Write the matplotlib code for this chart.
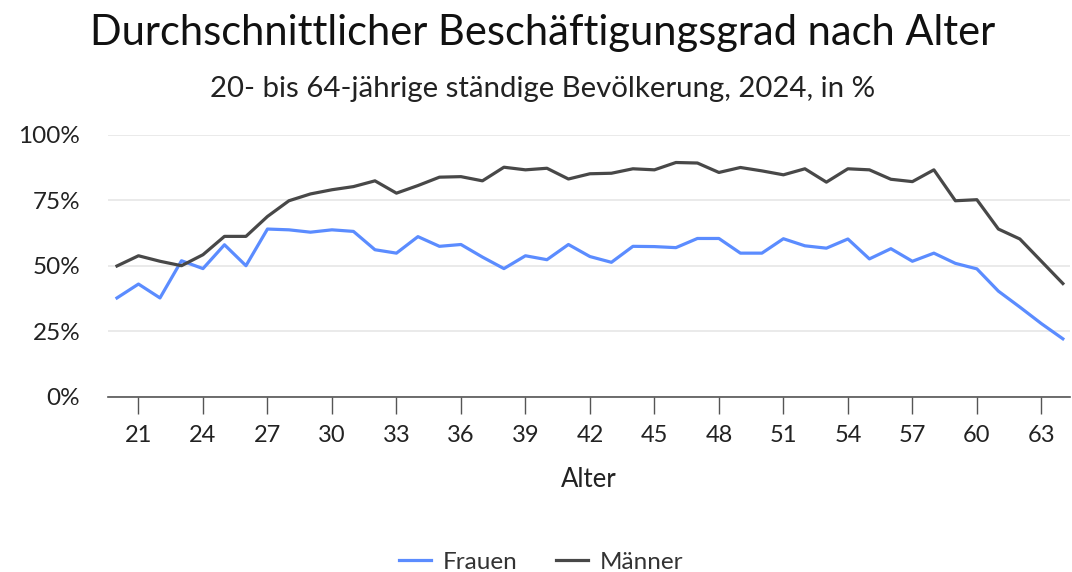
import matplotlib
matplotlib.use("Agg")
import matplotlib.pyplot as plt
from matplotlib.ticker import FuncFormatter

plt.rcParams['font.family'] = ['Lato', 'DejaVu Sans']

alter = list(range(20, 65))
frauen = [37.8, 43.1, 37.8, 52.0, 49.0, 58.1, 50.1, 64.1, 63.8, 62.9,
          63.8, 63.2, 56.2, 54.9, 61.2, 57.5, 58.2, 53.4, 49.0, 53.9,
          52.4, 58.2, 53.6, 51.4, 57.5, 57.4, 57.0, 60.5, 60.5, 54.9,
          54.9, 60.4, 57.7, 56.8, 60.3, 52.7, 56.6, 51.8, 54.9, 51.0,
          48.9, 40.4, 34.3, 28.0, 22.2]
maenner = [50.0, 53.9, 51.8, 50.1, 54.3, 61.3, 61.3, 68.9, 74.9, 77.5,
           79.1, 80.3, 82.5, 77.8, 80.7, 83.9, 84.1, 82.5, 87.7, 86.7,
           87.3, 83.2, 85.2, 85.4, 87.1, 86.7, 89.5, 89.3, 85.7, 87.6,
           86.3, 84.8, 87.1, 82.0, 87.1, 86.7, 83.1, 82.2, 86.7, 74.9,
           75.3, 64.1, 60.3, 51.8, 43.3]
xticks = list(range(21, 64, 3))
yticks = [0, 25, 50, 75, 100]

fig = plt.figure(figsize=(10.72, 5.72), dpi=100)
ax = fig.add_axes([0.1007, 0.306, 0.8974, 0.458])

ax.plot(alter, frauen, color='#5b8cff', lw=2.3, label='Frauen', clip_on=False)
ax.plot(alter, maenner, color='#484848', lw=2.3, label='Männer', clip_on=False)

ax.set_xlim(19.58, 64.33)
ax.set_ylim(0, 100)
ax.set_xticks(xticks)
ax.set_yticks(yticks)
ax.yaxis.set_major_formatter(FuncFormatter(lambda v, p: f"{int(v)}%"))
ax.grid(axis='y', color='#e6e6e6', lw=1.2)
ax.set_axisbelow(True)
for s in ['top', 'right', 'left']:
    ax.spines[s].set_visible(False)
ax.spines['bottom'].set_color('#555555')
ax.spines['bottom'].set_linewidth(1.2)
ax.tick_params(axis='x', length=12.5, width=1, color='#555555', pad=8,
               labelsize=17, labelcolor='#222222')
ax.tick_params(axis='y', length=0, pad=20, labelsize=17.5, labelcolor='#222222')
ax.set_xlabel('Alter', fontsize=18.5, color='#222222', labelpad=15)

fig.text(0.506, 0.942, 'Durchschnittlicher Beschäftigungsgrad nach Alter',
         ha='center', va='center', fontsize=30, color='#111111')
fig.text(0.506, 0.845, '20- bis 64-jährige ständige Bevölkerung, 2024, in %',
         ha='center', va='center', fontsize=21.2, color='#222222')

fig.legend(loc='center', bbox_to_anchor=(0.505, 0.017), ncol=2, frameon=False,
           fontsize=17.5, handlelength=1.3, handletextpad=0.5,
           columnspacing=1.6, labelcolor='#333333')

fig.savefig('out.png', dpi=100)
